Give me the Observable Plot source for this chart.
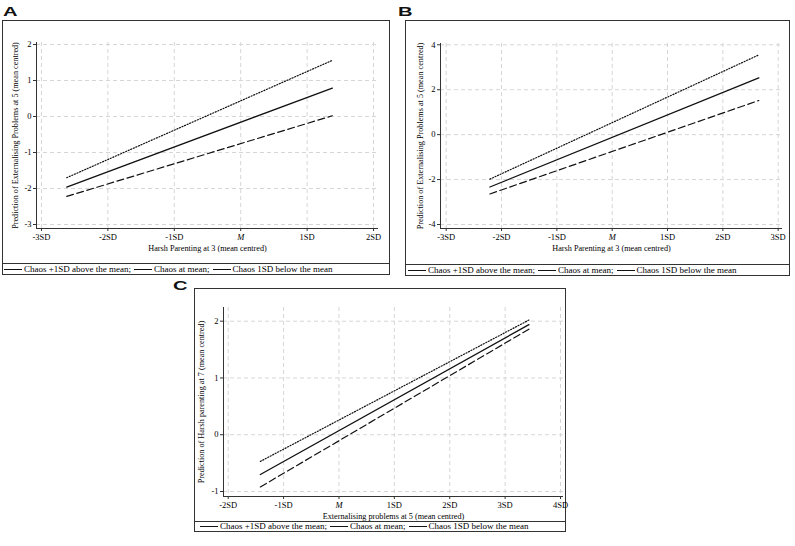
<!DOCTYPE html>
<html>
<head>
<meta charset="utf-8">
<script src="https://cdn.jsdelivr.net/npm/d3@7"></script>
<script src="https://cdn.jsdelivr.net/npm/@observablehq/plot@0.6"></script>
<style>
  body { margin: 0; background: #fff; }
  #page { position: relative; width: 795px; height: 546px; overflow: hidden; background: #fff;
          font-family: "Liberation Serif", "Times New Roman", serif; color: #000; }
  .panel { position: absolute; box-sizing: border-box; border: 1px solid #333; background: #fff; }
  .panel svg { position: absolute; left: 0; top: 0; overflow: visible; }
  .legend { position: absolute; left: 0; right: 0; bottom: 0; box-sizing: border-box;
            border-top: 1px solid #333; font-size: 9px; display: flex; align-items: center;
            white-space: nowrap; line-height: 1; }
  .legend .sw { display: inline-block; width: 18px; height: 0; border-top: 1px solid #111; margin-right: 2px; }
  .legend .item { margin-right: 3px; }
  .tag { position: absolute; font-family: "Liberation Sans", Arial, sans-serif; font-weight: bold;
         font-size: 13px; line-height: 1; transform: scaleX(1.55); transform-origin: left top; color: #111; }
</style>
</head>
<body>
<div id="page"></div>
<script>
// Simple slopes of the chaos moderation models: each line is a predicted
// outcome at the lowest and highest observed predictor value (SD units).
const seriesNames = ["Chaos +1SD above the mean", "Chaos at mean", "Chaos 1SD below the mean"];

// A: Harsh parenting at 3 -> externalising problems at 5
const xA = [-2.62, 1.38];
const plusA = [-1.70, 1.56];
const meanA = [-1.96, 0.79];
const minusA = [-2.22, 0.02];
const xTicksA = [-3, -2, -1, 0, 1, 2];
const yTicksA = [-3, -2, -1, 0, 1, 2];

// B: Harsh parenting at 3 -> externalising problems at 5
const xB = [-2.21, 2.65];
const plusB = [-1.98, 3.55];
const meanB = [-2.33, 2.53];
const minusB = [-2.64, 1.52];
const xTicksB = [-3, -2, -1, 0, 1, 2, 3];
const yTicksB = [-4, -2, 0, 2, 4];

// C: Externalising problems at 5 -> harsh parenting at 7
const xC = [-1.42, 3.43];
const plusC = [-0.47, 2.02];
const meanC = [-0.70, 1.94];
const minusC = [-0.92, 1.86];
const xTicksC = [-2, -1, 0, 1, 2, 3, 4];
const yTicksC = [-1, 0, 1, 2];

const panels = [
  {
    tag: "A", tagPos: [3, 5],
    box: { left: 2, top: 20, width: 388, height: 255 }, legendH: 11, legendPad: 1,
    w: 386, h: 242, m: [21, 11, 35, 33],
    xDomain: [-3.075, 2.075], yDomain: [-3.111, 2.056],
    x: xA, series: [plusA, meanA, minusA], xTicks: xTicksA, yTicks: yTicksA,
    xLabel: "Harsh Parenting at 3 (mean centred)",
    yLabel: "Prediction of Externalising Problems at 5 (mean centred)", yLabelDx: -21
  },
  {
    tag: "B", tagPos: [398, 5],
    box: { left: 405, top: 20, width: 385, height: 256 }, legendH: 11, legendPad: 2,
    w: 383, h: 243, m: [22, 7, 36, 34],
    xDomain: [-3.103, 3.078], yDomain: [-4.178, 4.058],
    x: xB, series: [plusB, meanB, minusB], xTicks: xTicksB, yTicks: yTicksB,
    xLabel: "Harsh Parenting at 3 (mean centred)",
    yLabel: "Prediction of Externalising Problems at 5 (mean centred)", yLabelDx: -20
  },
  {
    tag: "C", tagPos: [173, 279],
    box: { left: 194, top: 288, width: 372, height: 244 }, legendH: 10, legendPad: 5,
    w: 370, h: 233, m: [18, 2, 26, 28],
    xDomain: [-2.085, 4.054], yDomain: [-1.088, 2.241],
    x: xC, series: [plusC, meanC, minusC], xTicks: xTicksC, yTicks: yTicksC,
    xLabel: "Externalising problems at 5 (mean centred)",
    yLabel: "Prediction of Harsh parenting at 7 (mean centred)", yLabelDx: -22
  }
];

const lineStyles = [
  { strokeDasharray: "1.1,1.7", strokeWidth: 1.2 },  // +1SD: dotted
  { strokeWidth: 1.3 },                              // mean: solid
  { strokeDasharray: "7,3.5", strokeWidth: 1.2 }     // -1SD: long dash
];

const sdLabel = d => d === 0 ? "M" : `${d}SD`;
const page = document.getElementById("page");

for (const p of panels) {
  const div = document.createElement("div");
  div.className = "panel";
  Object.assign(div.style, {
    left: p.box.left + "px", top: p.box.top + "px",
    width: p.box.width + "px", height: p.box.height + "px"
  });

  const rows = seriesNames.flatMap((name, i) =>
    p.x.map((xv, j) => ({ series: name, x: xv, y: p.series[i][j] })));

  const gridStyle = { stroke: "#d6d6d6", strokeOpacity: 1, strokeDasharray: "4,3", strokeWidth: 1 };
  const [mt, mr, mb, ml] = p.m;

  const svg = Plot.plot({
    width: p.w, height: p.h,
    marginTop: mt, marginRight: mr, marginBottom: mb, marginLeft: ml,
    style: { fontFamily: "'Liberation Serif', 'Times New Roman', serif", fontSize: "8.5px", color: "#000", background: "transparent", overflow: "visible" },
    x: { domain: p.xDomain },
    y: { domain: p.yDomain },
    marks: [
      Plot.gridX({ ticks: p.xTicks, ...gridStyle }),
      Plot.gridY({ ticks: p.yTicks, ...gridStyle }),
      Plot.ruleX([p.xDomain[0]], { stroke: "#333", strokeWidth: 1 }),
      Plot.ruleY([p.yDomain[0]], { stroke: "#333", strokeWidth: 1 }),
      Plot.axisX({ ticks: p.xTicks, tickFormat: sdLabel, tickSize: 3, tickPadding: 2, label: null, stroke: "#333" }),
      Plot.axisY({ ticks: p.yTicks, tickFormat: d => String(d), tickSize: 3, tickPadding: 2, label: null, stroke: "#333" }),
      ...seriesNames.map((name, i) =>
        Plot.line(rows.filter(r => r.series === name), { x: "x", y: "y", stroke: "#111", ...lineStyles[i] })),
      Plot.text([p.xLabel], { frameAnchor: "bottom", dy: 20, fontSize: 8.2, fill: "#000", textAnchor: "middle", lineAnchor: "middle" }),
      Plot.text([p.yLabel], { frameAnchor: "left", dx: p.yLabelDx, rotate: -90, fontSize: 8.2, fill: "#000", textAnchor: "middle", lineAnchor: "middle" })
    ]
  });

  // The mean tick is written as an italic M
  svg.querySelectorAll("text").forEach(t => {
    if (t.textContent === "M") t.setAttribute("font-style", "italic");
  });
  div.appendChild(svg);

  const legend = document.createElement("div");
  legend.className = "legend";
  legend.style.height = p.legendH + "px";
  legend.style.paddingLeft = p.legendPad + "px";
  seriesNames.forEach((name, i) => {
    const sw = document.createElement("span");
    sw.className = "sw";
    const it = document.createElement("span");
    it.className = "item";
    it.textContent = name + (i < seriesNames.length - 1 ? ";" : "");
    legend.appendChild(sw);
    legend.appendChild(it);
  });
  div.appendChild(legend);
  page.appendChild(div);

  const tag = document.createElement("div");
  tag.className = "tag";
  tag.textContent = p.tag;
  tag.style.left = p.tagPos[0] + "px";
  tag.style.top = p.tagPos[1] + "px";
  page.appendChild(tag);
}
</script>
</body>
</html>
